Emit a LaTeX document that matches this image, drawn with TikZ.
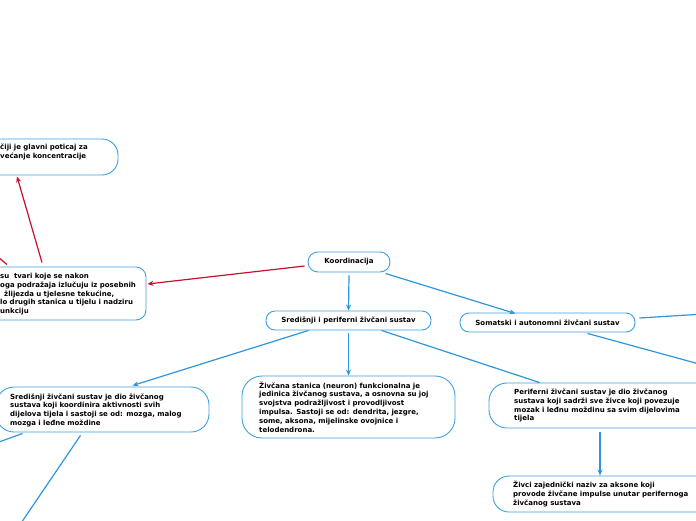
\documentclass[tikz,border=0pt]{standalone}
\usepackage{fontspec}
\setmainfont{DejaVu Sans}
\usetikzlibrary{calc,arrows.meta}
\definecolor{lnblue}{RGB}{45,150,220}
\definecolor{bxblue}{RGB}{60,160,225}
\definecolor{lnred}{RGB}{200,16,46}
\begin{document}
\begin{tikzpicture}[x=1pt,y=-1pt,
  box/.style={draw=bxblue, line width=0.9pt, rounded corners=#1, inner sep=0pt,
    font=\fontsize{7}{8.8}\selectfont\bfseries},
  box/.default=14pt,
  txt/.style={anchor=base west, inner sep=0pt, text width=260pt, align=left,
    font=\fontsize{7}{8.8}\selectfont\bfseries},
  bl/.style={draw=lnblue, line width=1.2pt},
  rd/.style={draw=lnred, line width=1.2pt},
  arr/.style={-{Stealth[length=6pt,width=5pt]}}]
\useasboundingbox (0,0) rectangle (696,520);
\fill[white] (0,0) rectangle (696,520);

% boxes
\node[box=10pt, minimum width=82pt, minimum height=20pt] (koord) at (349,262) {Koordinacija};
\node[box=9pt, minimum width=165pt, minimum height=19pt] (spp) at (348.5,320.5) {Središnji i periferni živčani sustav};
\node[box=9pt, minimum width=175pt, minimum height=19pt] (som) at (547.5,322.5) {Somatski i autonomni živčani sustav};
\node[box=16pt, minimum width=198pt, minimum height=36pt] (top) at (19,157) {};
\node[box=10pt, minimum width=226pt, minimum height=53pt] (horm) at (33,293.5) {};
\node[box=18pt, minimum width=213pt, minimum height=45pt] (szs) at (102.5,409.5) {};
\node[box=20pt, minimum width=213pt, minimum height=62pt] (stan) at (348.5,407) {};
\node[box=18pt, minimum width=231pt, minimum height=45pt] (per) at (604.5,405.5) {};
\node[box=16pt, minimum width=227pt, minimum height=36pt] (ziv) at (606.5,494) {};

% texts
\node[txt] (top-t) at (0,149.5) {čiji je glavni poticaj za\\većanje koncentracije};
\node[txt] (horm-t) at (0,278.5) {su~ tvari koje se nakon\\oga podražaja izlučuju iz posebnih\\\hspace*{4pt}žlijezda u tjelesne tekućine,\\lo drugih stanica u tijelu i nadziru\\unkciju};
\node[txt] (szs-t) at (10,399) {Središnji živčani sustav je dio živčanog\\sustava koji koordinira aktivnosti svih\\dijelova tijela i sastoji se od: mozga, malog\\mozga i leđne moždine};
\node[txt] (stan-t) at (259,388) {Živčana stanica (neuron) funkcionalna je\\jedinica živčanog sustava, a osnovna su joj\\svojstva podražljivost i provodljivost\\impulsa. Sastoji se od: dendrita, jezgre,\\some, aksona, mijelinske ovojnice i\\telodendrona.};
\node[txt] (per-t) at (514,394.5) {Periferni živčani sustav je dio živčanog\\sustava koji sadrži sve živce koji povezuje\\mozak i leđnu moždinu sa svim dijelovima\\tijela};
\node[txt] (ziv-t) at (513,487.5) {Živci zajednički naziv za aksone koji\\provode živčane impulse unutar perifernoga\\živčanog sustava};

% free ends
\coordinate (hl) at (-28,235);
\coordinate (sr1) at (720,313);
\coordinate (sr2) at (720,369.7);
\coordinate (sl1) at (-12,446);
\coordinate (sl2) at (15,532);

% red connectors
\draw[rd, arr] ($(koord.west)+(-3,4)$) -- ($(horm.east)+(1,-9.5)$);
\draw[rd, arr] ($(horm.north)+(9,-4)$) -- ($(top.south)+(-2,1)$);
\draw[rd] ($(horm.north)+(-26,-2)$) -- (hl);

% blue connectors
\draw[bl, arr] ($(koord.south)+(0,3)$) -- (spp.north);
\draw[bl, arr] ($(koord.south east)+(-5,1)$) -- ($(som.north)+(-32,1)$);
\draw[bl, arr] ($(spp.south)+(-40,0)$) -- ($(szs.north)+(30,-1)$);
\draw[bl, arr] ($(spp.south)+(0,3)$) -- (stan.north);
\draw[bl] ($(spp.south)+(33,0)$) -- ($(per.north west)+(51,0)$);
\draw[bl, arr] ($(per.south)+(-4.5,4)$) -- ($(ziv.north)+(-6.5,0)$);
\draw[bl] ($(som.east)+(4,-4.5)$) -- (sr1);
\draw[bl] ($(som.south)+(40,1)$) -- (sr2);
\draw[bl] ($(szs.south west)+(27,1)$) -- (sl1);
\draw[bl] ($(szs.south)+(-22,3)$) -- (sl2);
\end{tikzpicture}
\end{document}
